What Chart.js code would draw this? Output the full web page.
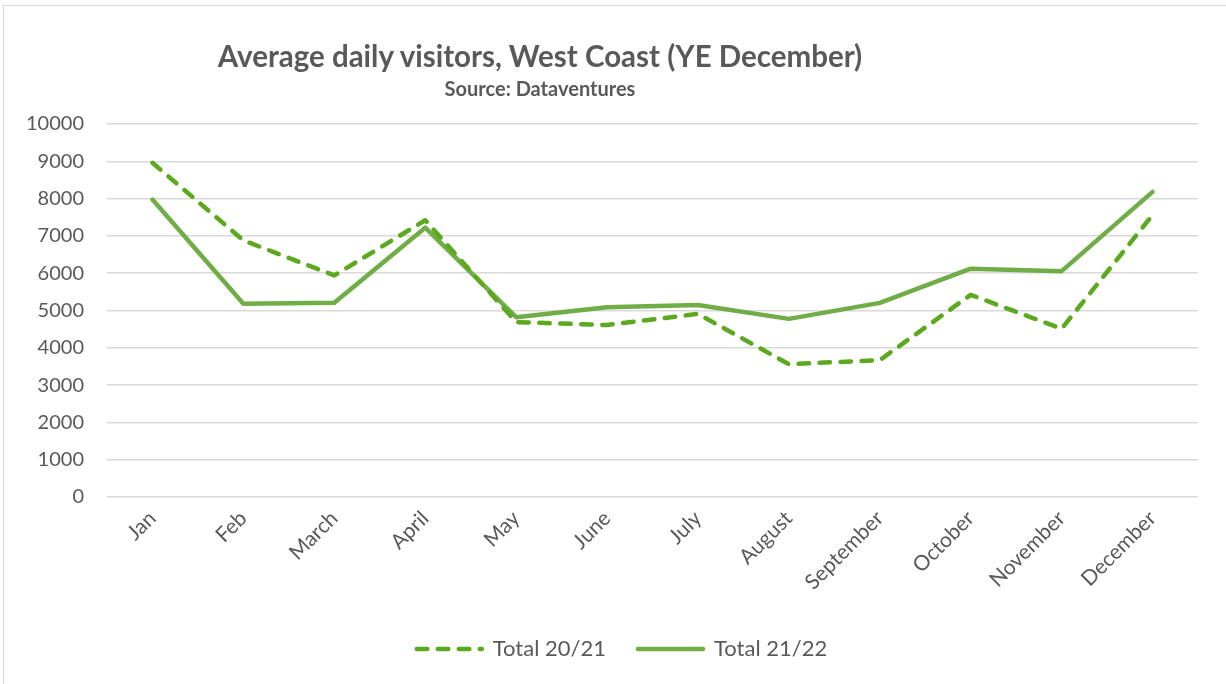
<!DOCTYPE html>
<html>
<head>
<meta charset="utf-8">
<script src="https://cdn.jsdelivr.net/npm/chart.js@4"></script>
<style>
  html, body { margin: 0; padding: 0; background: #fff; }
  #wrap { position: relative; width: 1226px; height: 684px; overflow: hidden; }
  #frame { position: absolute; left: 3px; top: 5px; width: 1240px; height: 700px; border: 1px solid #d9d9d9; box-sizing: border-box; }
  #title { position: absolute; left: 0; width: 1080px; top: 38px; text-align: center; font-family: Lato, sans-serif; font-weight: bold; font-size: 29.5px; color: #595959; white-space: nowrap; }
  #subtitle { position: absolute; left: 0; width: 1080px; top: 76px; text-align: center; font-family: Lato, sans-serif; font-weight: bold; font-size: 20px; color: #595959; white-space: nowrap; }
  canvas { position: absolute; left: 0; top: 0; }
</style>
</head>
<body>
<div id="wrap">
  <div id="frame"></div>
  <canvas id="c" width="1226" height="684"></canvas>
  <div id="title">Average daily visitors, West Coast (YE December)</div>
  <div id="subtitle">Source: Dataventures</div>
</div>
<script>
const categories = ["Jan", "Feb", "March", "April", "May", "June", "July", "August", "September", "October", "November", "December"];
const total2021 = [8960, 6880, 5940, 7420, 4690, 4610, 4910, 3560, 3670, 5420, 4510, 7560];
const total2122 = [7975, 5180, 5205, 7220, 4820, 5090, 5150, 4775, 5205, 6120, 6055, 8180];
const yTicks = [0, 1000, 2000, 3000, 4000, 5000, 6000, 7000, 8000, 9000, 10000];

const FONT = "Lato, sans-serif";
const GREY = "#595959";

const legendShift = {
  id: "legendShift",
  afterLayout(chart) {
    if (chart.legend) { chart.legend.left += 46; }
  }
};

new Chart(document.getElementById("c"), {
  type: "line",
  data: {
    labels: categories,
    datasets: [
      {
        label: "Total 20/21",
        data: total2021,
        borderColor: "#5ca81e",
        backgroundColor: "#5ca81e",
        borderWidth: 4.5,
        borderDash: [10.5, 10.5],
        borderCapStyle: "round",
        borderJoinStyle: "round",
        pointRadius: 0,
        tension: 0,
        fill: false
      },
      {
        label: "Total 21/22",
        data: total2122,
        borderColor: "#70ad47",
        backgroundColor: "#70ad47",
        borderWidth: 4.5,
        borderCapStyle: "round",
        borderJoinStyle: "round",
        pointRadius: 0,
        tension: 0,
        fill: false
      }
    ]
  },
  plugins: [legendShift],
  options: {
    responsive: false,
    animation: false,
    devicePixelRatio: 1,
    layout: { padding: { top: 124, right: 28, left: 0, bottom: 14 } },
    plugins: {
      title: { display: false },
      tooltip: { enabled: false },
      legend: {
        display: true,
        position: "bottom",
        labels: {
          usePointStyle: true,
          pointStyle: "line",
          pointStyleWidth: 65,
          boxHeight: 22,
          padding: 32,
          color: GREY,
          font: { family: FONT, size: 22 },
          generateLabels(chart) {
            const items = Chart.defaults.plugins.legend.labels.generateLabels(chart);
            items.forEach(it => {
              const ds = chart.data.datasets[it.datasetIndex];
              it.lineDash = ds.borderDash || [];
              it.lineWidth = ds.borderWidth;
              it.lineCap = "round";
              it.strokeStyle = ds.borderColor;
              it.pointStyle = "line";
            });
            return items;
          }
        }
      }
    },
    scales: {
      x: {
        offset: true,
        grid: { display: false, drawTicks: false },
        border: { display: false },
        ticks: {
          color: GREY,
          font: { family: FONT, size: 21 },
          maxRotation: 45,
          minRotation: 45,
          autoSkip: false,
          padding: 9
        },
        afterFit(scale) { scale.height = 109; }
      },
      y: {
        min: 0,
        max: 10000,
        afterBuildTicks(scale) { scale.ticks = yTicks.map(v => ({ value: v })); },
        grid: { color: "#d9d9d9", lineWidth: 1.5, drawTicks: false },
        border: { display: false },
        ticks: {
          color: GREY,
          font: { family: FONT, size: 20 },
          padding: 23,
          callback: (v) => String(v)
        },
        afterFit(scale) { scale.width = 107; }
      }
    }
  }
});
</script>
</body>
</html>
